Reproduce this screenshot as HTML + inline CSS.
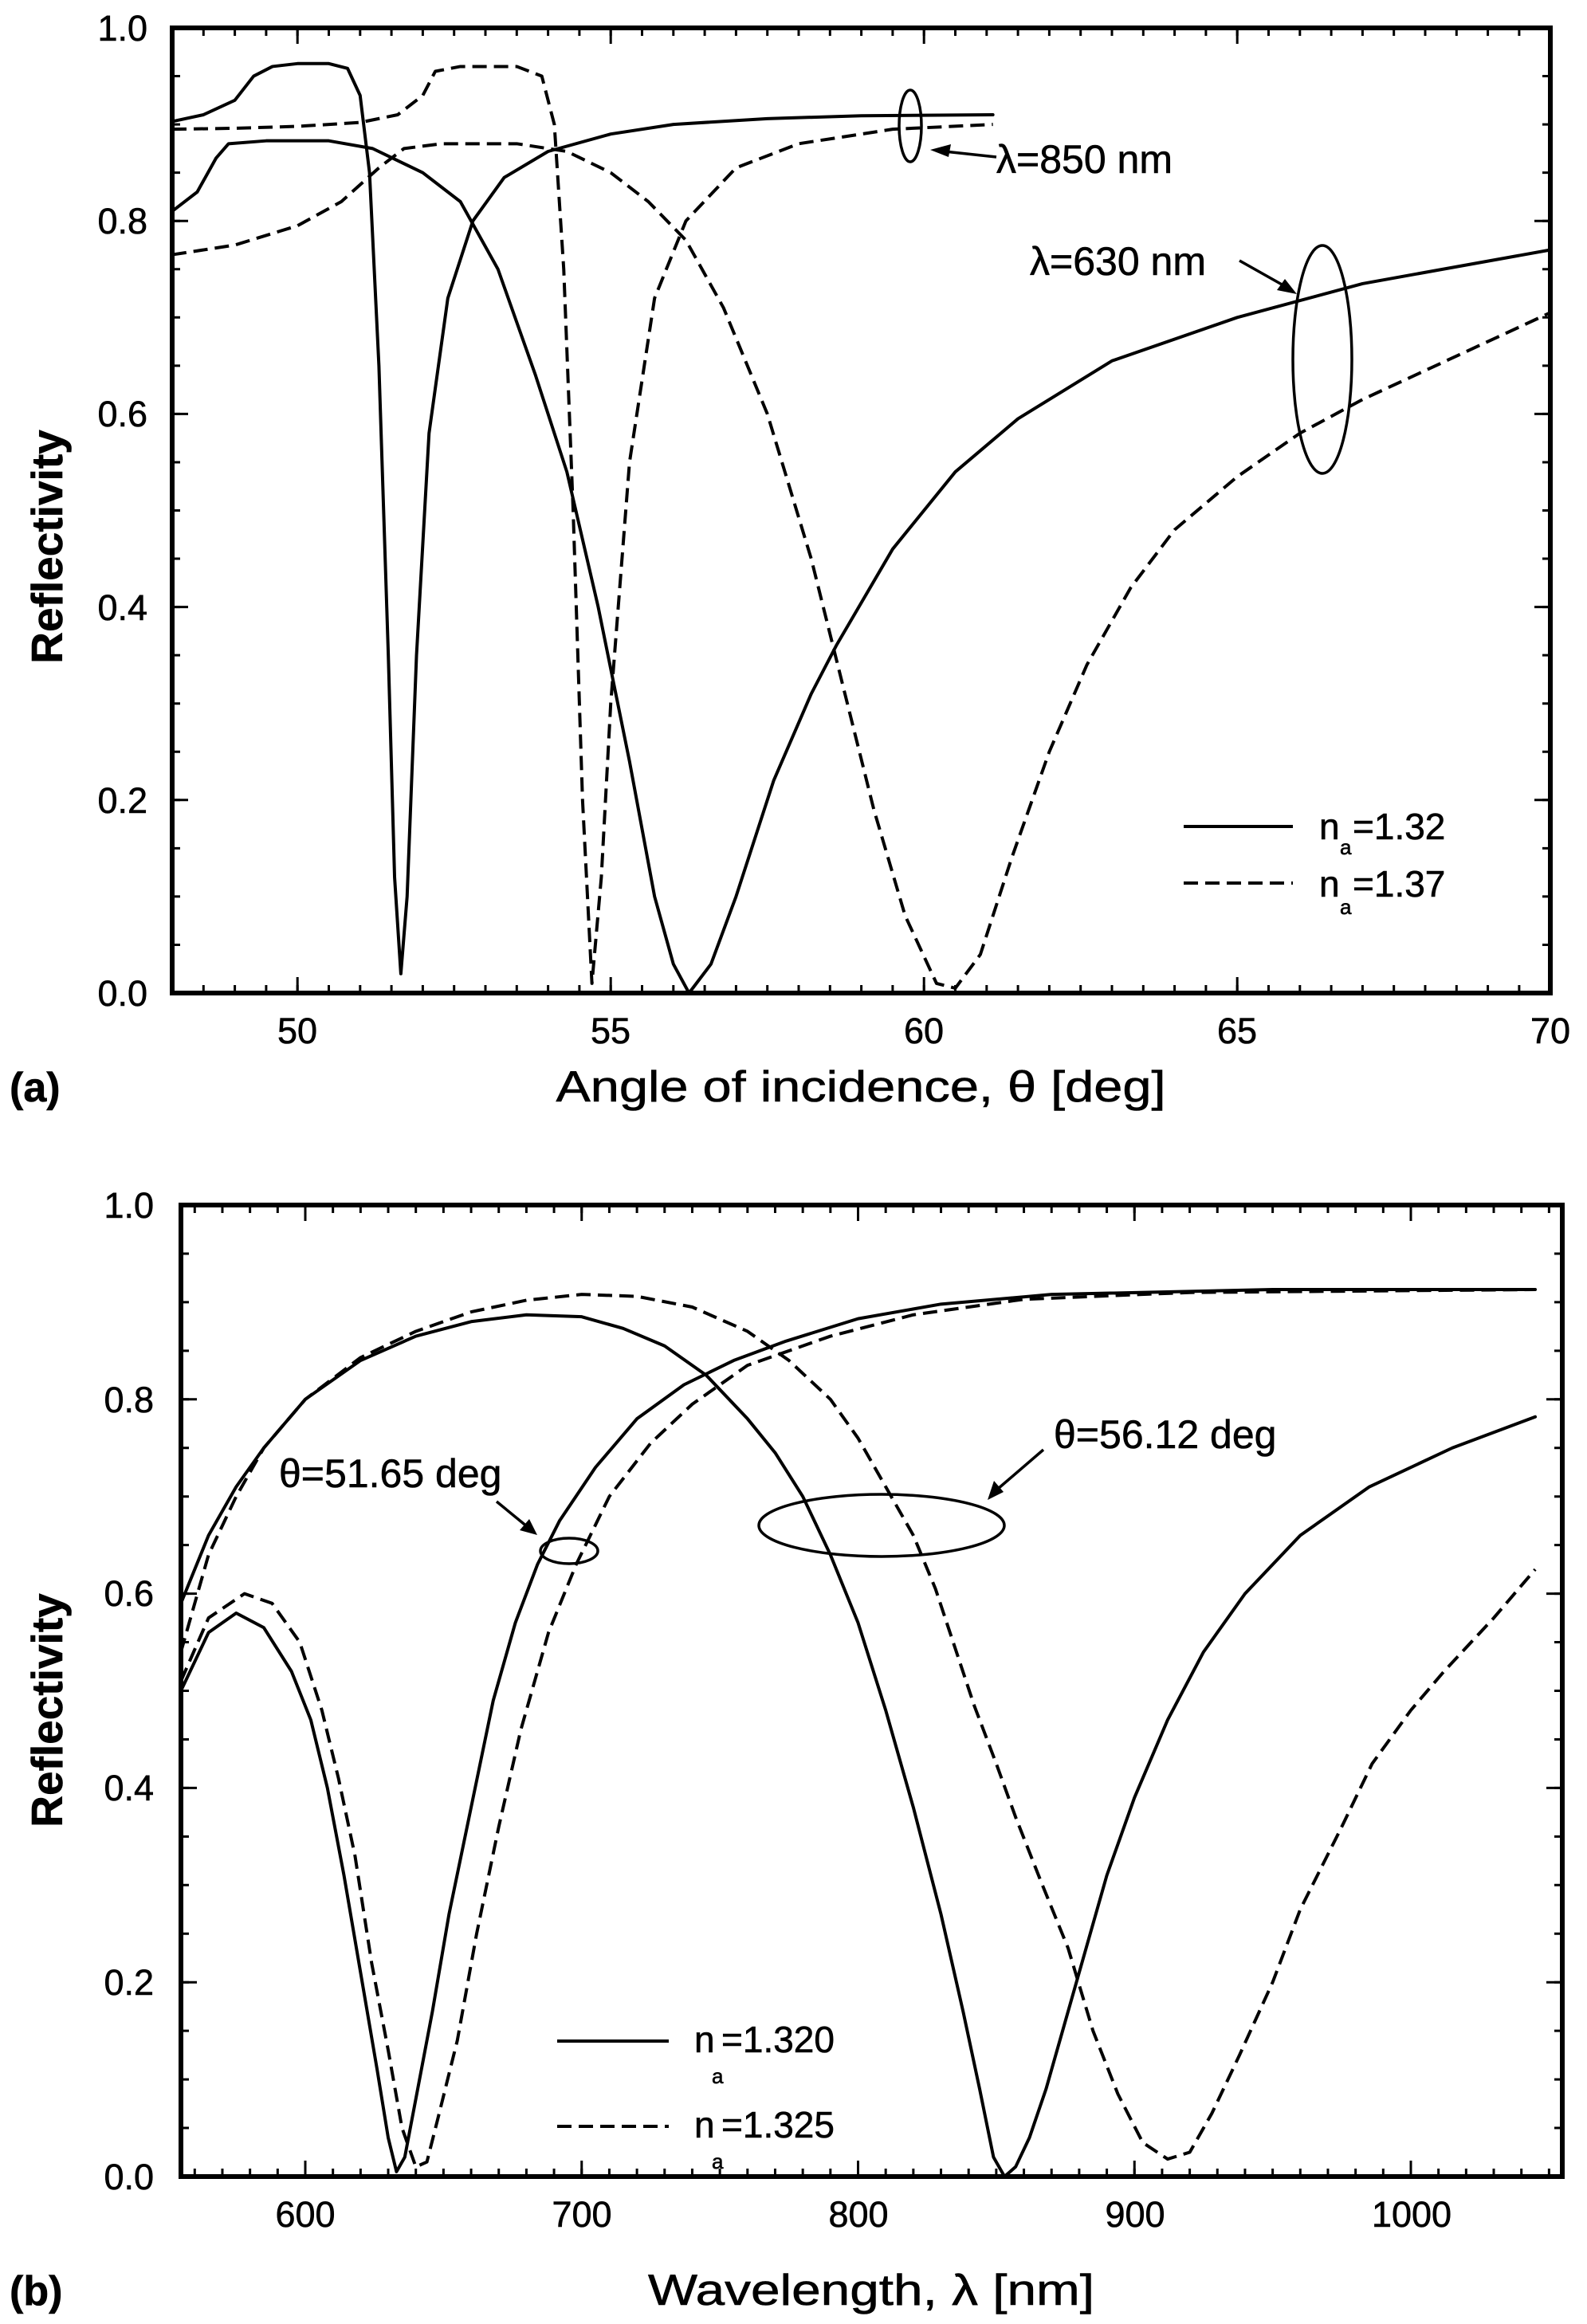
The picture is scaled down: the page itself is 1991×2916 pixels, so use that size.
<!DOCTYPE html>
<html><head><meta charset="utf-8"><style>
html,body{margin:0;padding:0;background:#fff;}
svg{display:block;}
text{font-family:"Liberation Sans",Arial,sans-serif;fill:#000;stroke:#000;stroke-width:0.6;}
</style></head><body>
<svg width="1991" height="2916" viewBox="0 0 1991 2916" xmlns="http://www.w3.org/2000/svg">
<rect width="1991" height="2916" fill="#fff"/>

<!-- ========== PLOT A ========== -->
<g stroke="#000" fill="none">
  <line x1="214.5" y1="1241" x2="1945" y2="1241" stroke-width="10" stroke-dasharray="3 36.3"/>
  <line x1="371.7" y1="1236" x2="1945" y2="1236" stroke-width="20" stroke-dasharray="3 390"/>
  <line x1="214.5" y1="40" x2="1945" y2="40" stroke-width="10" stroke-dasharray="3 36.3"/>
  <line x1="371.7" y1="45" x2="1945" y2="45" stroke-width="20" stroke-dasharray="3 390"/>
  <line x1="221" y1="1247.5" x2="221" y2="35" stroke-width="10" stroke-dasharray="3 57.55"/>
  <line x1="226" y1="1247.5" x2="226" y2="35" stroke-width="20" stroke-dasharray="3 239.2"/>
  <line x1="1940" y1="1247.5" x2="1940" y2="35" stroke-width="10" stroke-dasharray="3 57.55"/>
  <line x1="1935" y1="1247.5" x2="1935" y2="35" stroke-width="20" stroke-dasharray="3 239.2"/>
  <rect x="216" y="35" width="1729" height="1211" stroke-width="6"/>
</g>
<g font-size="45" text-anchor="end">
  <text x="185" y="1262">0.0</text>
  <text x="185" y="1020">0.2</text>
  <text x="185" y="778">0.4</text>
  <text x="185" y="535">0.6</text>
  <text x="185" y="293">0.8</text>
  <text x="185" y="51">1.0</text>
</g>
<g font-size="45" text-anchor="middle">
  <text x="373" y="1309">50</text>
  <text x="766" y="1309">55</text>
  <text x="1159" y="1309">60</text>
  <text x="1552" y="1309">65</text>
  <text x="1945" y="1309">70</text>
</g>
<text x="78" y="686" font-size="55" font-weight="bold" text-anchor="middle" transform="rotate(-90 78 686)">Reflectivity</text>
<text x="12" y="1382" font-size="52" font-weight="bold">(a)</text>
<text x="1080" y="1382" font-size="55" text-anchor="middle" textLength="765" lengthAdjust="spacingAndGlyphs">Angle of incidence, θ [deg]</text>

<g transform="matrix(78.6,0,0,-12.11,-3556.8,1246)" fill="none" stroke="#000" stroke-linejoin="round" stroke-linecap="round">
  <polyline vector-effect="non-scaling-stroke" stroke-width="4" points="48,90.3 48.5,91 49,92.5 49.3,95 49.6,96 50,96.3 50.5,96.3 50.8,95.8 51,93 51.15,85 51.3,65 51.45,35 51.55,12 51.65,2 51.75,10 51.9,35 52.1,58 52.4,72 52.8,80 53.3,84.5 54,87.2 55,89 56,90 57.5,90.6 59,90.9 61.1,91"/>
  <polyline vector-effect="non-scaling-stroke" stroke-width="4" stroke-linecap="butt" stroke-dasharray="18 9" points="48,89.5 49,89.6 50,89.8 51,90.2 51.6,91 52,93 52.2,95.5 52.6,96 53.5,96 53.9,95 54.1,90 54.25,75 54.4,50 54.55,20 54.7,1 54.85,12 55,30 55.3,55 55.7,72 56.2,80 57,85.5 58,88 59.5,89.5 61.1,90"/>
  <polyline vector-effect="non-scaling-stroke" stroke-width="4" points="48,81 48.4,83 48.7,86.5 48.9,88 49.5,88.3 50.5,88.3 51.2,87.5 52,85 52.6,82 53.2,75 53.8,64 54.3,54 54.8,40 55.3,24 55.7,10 56,3 56.25,0 56.6,3 57,10 57.6,22 58.2,31 58.6,36 59.5,46 60.5,54 61.5,59.5 63,65.5 65,70 67,73.5 70,77"/>
  <polyline vector-effect="non-scaling-stroke" stroke-width="4" stroke-linecap="butt" stroke-dasharray="18 9" points="48,76.5 49,77.5 50,79.5 50.7,82 51.3,85.5 51.7,87.5 52.3,88 53.5,88 54.3,87.2 55,85 55.6,82 56.2,78 56.8,71 57.5,60 58.2,45 58.7,32 59.2,19 59.7,8 60.2,1 60.5,0.5 60.9,4 61.4,14 62,25 62.6,34 63.3,42 64,48 65,53.5 66,58 67,61.5 68,64.5 69,67.5 70,70.5"/>
</g>
<g fill="none" stroke="#000" stroke-width="3.5">
  <ellipse cx="1142" cy="158" rx="14" ry="45"/>
  <line x1="1250" y1="197" x2="1185" y2="190"/>
  <ellipse cx="1659" cy="451" rx="37" ry="143"/>
  <line x1="1555" y1="327" x2="1610" y2="358"/>
</g>
<polygon points="1167,188 1193,181 1190,197" fill="#000"/>
<polygon points="1627,369 1602,364 1612,350" fill="#000"/>
<text x="1250" y="217" font-size="50">λ=850 nm</text>
<text x="1292" y="345" font-size="50">λ=630 nm</text>
<line x1="1485" y1="1037" x2="1622" y2="1037" stroke="#000" stroke-width="4"/>
<line x1="1485" y1="1108" x2="1622" y2="1108" stroke="#000" stroke-width="4" stroke-dasharray="18 9"/>
<text x="1655" y="1053" font-size="46">n</text><text x="1681" y="1072" font-size="26">a</text><text x="1697" y="1053" font-size="46">=1.32</text>
<text x="1655" y="1125" font-size="46">n</text><text x="1681" y="1147" font-size="26">a</text><text x="1697" y="1125" font-size="46">=1.37</text>

<!-- ========== PLOT B ========== -->
<g stroke="#000" fill="none">
  <line x1="242.8" y1="2726" x2="1960" y2="2726" stroke-width="10" stroke-dasharray="3 31.675"/>
  <line x1="381.5" y1="2721" x2="1960" y2="2721" stroke-width="20" stroke-dasharray="3 343.75"/>
  <line x1="242.8" y1="1517" x2="1960" y2="1517" stroke-width="10" stroke-dasharray="3 31.675"/>
  <line x1="381.5" y1="1522" x2="1960" y2="1522" stroke-width="20" stroke-dasharray="3 343.75"/>
  <line x1="232" y1="2732.5" x2="232" y2="1512" stroke-width="10" stroke-dasharray="3 57.95"/>
  <line x1="237" y1="2732.5" x2="237" y2="1512" stroke-width="20" stroke-dasharray="3 240.8"/>
  <line x1="1955" y1="2732.5" x2="1955" y2="1512" stroke-width="10" stroke-dasharray="3 57.95"/>
  <line x1="1950" y1="2732.5" x2="1950" y2="1512" stroke-width="20" stroke-dasharray="3 240.8"/>
  <rect x="227" y="1512" width="1733" height="1219" stroke-width="6"/>
</g>
<g font-size="45" text-anchor="end">
  <text x="193" y="2747">0.0</text>
  <text x="193" y="2503">0.2</text>
  <text x="193" y="2259">0.4</text>
  <text x="193" y="2015">0.6</text>
  <text x="193" y="1772">0.8</text>
  <text x="193" y="1528">1.0</text>
</g>
<g font-size="45" text-anchor="middle">
  <text x="383" y="2794">600</text>
  <text x="730" y="2794">700</text>
  <text x="1077" y="2794">800</text>
  <text x="1424" y="2794">900</text>
  <text x="1771" y="2794">1000</text>
</g>
<text x="78" y="2146" font-size="55" font-weight="bold" text-anchor="middle" transform="rotate(-90 78 2146)">Reflectivity</text>
<text x="12" y="2892" font-size="52" font-weight="bold">(b)</text>
<text x="1093" y="2892" font-size="55" text-anchor="middle" textLength="560" lengthAdjust="spacingAndGlyphs">Wavelength, λ [nm]</text>

<g transform="matrix(3.4675,0,0,-12.19,-1697.5,2731)" fill="none" stroke="#000" stroke-linejoin="round" stroke-linecap="round">
  <polyline vector-effect="non-scaling-stroke" stroke-width="4" points="555,50 565,56 575,58 585,56.5 595,52 602,47 608,40 614,31 620,21 626,11 630,4 633,0.5 636,2 640,8 646,17 652,27 660,38 668,49 676,57 684,63 692,67.5 705,73 720,78 737,81.5 755,84 774,86 800,88.3 830,89.8 870,90.8 950,91.3 1045,91.3"/>
  <polyline vector-effect="non-scaling-stroke" stroke-width="4" stroke-linecap="butt" stroke-dasharray="18 9" points="555,51 565,57.5 578,60 588,59 598,55 606,48 612,41 618,33 624,22 630,13 635,5 640,1 644,1.5 648,6 655,14 662,25 670,36 678,46 688,56 698,63 710,70 725,75.5 740,79.5 760,83.5 790,86.5 820,88.7 860,90.3 920,91 1045,91.3"/>
  <polyline vector-effect="non-scaling-stroke" stroke-width="4" points="555,59 565,66 575,71 585,75 600,80 620,84 640,86.5 660,88 680,88.7 700,88.5 715,87.3 730,85.5 745,82.5 760,78 770,74.5 780,70 790,64 800,57 810,48 820,38 830,27 838,17 844,9 849,2 853,0 857,1 862,4 868,9 875,16 882,23 890,31 900,39 912,47 925,54 940,60 960,66 985,71 1015,75 1045,78.2"/>
  <polyline vector-effect="non-scaling-stroke" stroke-width="4" stroke-linecap="butt" stroke-dasharray="18 9" points="555,54 565,64 575,70 585,75 600,80 620,84.3 640,87 660,89 680,90.2 700,90.8 720,90.6 740,89.5 760,87 775,84 790,80 800,76 810,71 820,66 828,60.5 835,54.5 842,48.5 850,42.5 857,37 866,30.5 876,23.5 885,15 894,8.5 903,3.5 912,1.8 920,2.5 928,6.5 938,12.5 950,20 960,27.5 975,36 986,42.5 1000,48 1012,52 1030,57.5 1045,62.5"/>
</g>
<g fill="none" stroke="#000" stroke-width="3.5">
  <ellipse cx="1106" cy="1914" rx="154" ry="39"/>
  <line x1="1309" y1="1819" x2="1252" y2="1868"/>
  <ellipse cx="714" cy="1946" rx="36" ry="16"/>
  <line x1="623" y1="1884" x2="662" y2="1916"/>
</g>
<polygon points="1239,1882 1247,1858 1259,1872" fill="#000"/>
<polygon points="674,1926 652,1920 664,1906" fill="#000"/>
<text x="1322" y="1817" font-size="50">θ=56.12 deg</text>
<text x="350" y="1866" font-size="50">θ=51.65 deg</text>
<line x1="699" y1="2561" x2="839" y2="2561" stroke="#000" stroke-width="4"/>
<line x1="699" y1="2668" x2="839" y2="2668" stroke="#000" stroke-width="4" stroke-dasharray="18 9"/>
<text x="871" y="2575" font-size="46">n</text><text x="893" y="2614" font-size="26">a</text><text x="905" y="2575" font-size="46">=1.320</text>
<text x="871" y="2682" font-size="46">n</text><text x="893" y="2721" font-size="26">a</text><text x="905" y="2682" font-size="46">=1.325</text>
</svg>
</body></html>
